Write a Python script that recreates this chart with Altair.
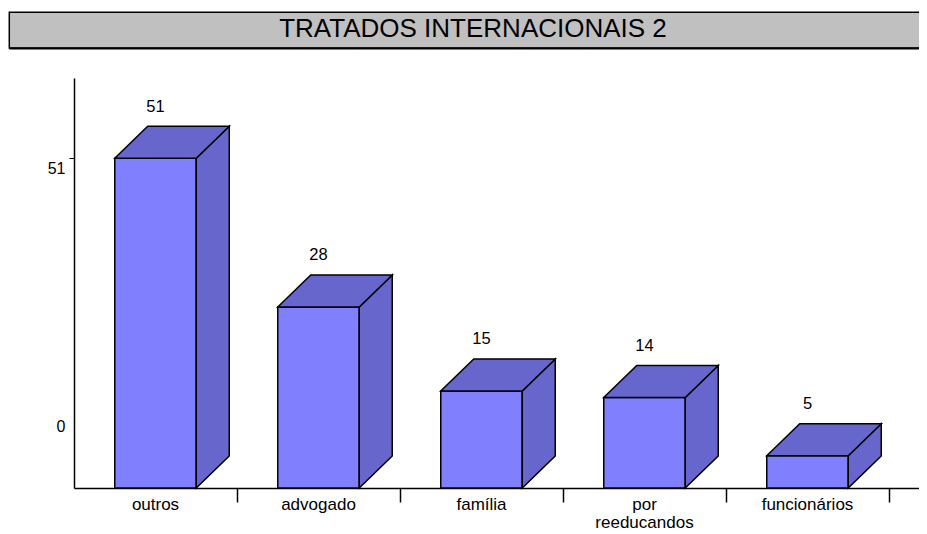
import altair as alt
import pandas as pd

# ---- data ----
categories = ["outros", "advogado", "família", "por\nreeducandos", "funcionários"]
values = [51, 28, 15, 14, 5]
title_text = "TRATADOS INTERNACIONAIS 2"
y_tick_values = [51, 11.03]
y_tick_labels = ["51", "0"]

# ---- layout / style ----
W, H = 845, 410
BAND = 163.0
XMAX = W / BAND
YMAX = 63.4
DX = 33 / BAND                # 3D depth, horizontal (data units)
DY = 32 / (H / YMAX)          # 3D depth, vertical (data units)
FRONT = "#8080FF"
SIDE = "#6666CC"
FONT = "Liberation Sans"

idx = list(range(len(categories)))
front = pd.DataFrame({
    "cat": categories,
    "v": values,
    "zero": [0] * len(values),
    "x0": [i + 0.25 for i in idx],
    "x1": [i + 0.75 for i in idx],
    "xc": [i + 0.5 for i in idx],
})

side_rows, top_rows = [], []
for i, c, v in zip(idx, categories, values):
    side_rows.append({"cat": c, "sx": i + 0.75, "lo": 0.0, "hi": float(v)})
    side_rows.append({"cat": c, "sx": i + 0.75 + DX, "lo": DY, "hi": v + DY})
    top_rows.append({"cat": c, "ty": float(v), "xa": i + 0.25, "xb": i + 0.75})
    top_rows.append({"cat": c, "ty": v + DY, "xa": i + 0.25 + DX, "xb": i + 0.75 + DX})
side = pd.DataFrame(side_rows)
top = pd.DataFrame(top_rows)
title_df = pd.DataFrame({"t": [title_text]})

xs = alt.Scale(domain=[0, XMAX], nice=False, zero=False)
ys = alt.Scale(domain=[0, YMAX], nice=False, zero=False)

label_expr = " : ".join(
    [f"datum.value == {v} ? '{l}'" for v, l in zip(y_tick_values[:-1], y_tick_labels[:-1])]
    + [f"'{y_tick_labels[-1]}'"]
)

xaxis = alt.Axis(values=[1, 2, 3, 4, 5], labels=False, tickSize=14, tickWidth=1.5,
                 tickColor="black", domainColor="black", domainWidth=1.5,
                 grid=False, title=None)
yaxis = alt.Axis(values=y_tick_values, labelExpr=label_expr, tickSize=5, tickWidth=1,
                 tickColor="black",
                 tickOpacity={"condition": {"test": f"datum.value == {y_tick_values[0]}", "value": 1}, "value": 0},
                 labelFont=FONT, labelFontSize=16, labelColor="black", labelPadding=4,
                 labelOffset=10, domainColor="black", domainWidth=1.5, grid=False, title=None)

front_layer = alt.Chart(front).mark_rect(fill=FRONT, stroke="black", strokeWidth=1.5).encode(
    x=alt.X("x0:Q", scale=xs, axis=xaxis),
    x2="x1:Q",
    y=alt.Y("v:Q", scale=ys, axis=yaxis),
    y2="zero:Q",
)

side_layer = alt.Chart(side).mark_area(fill=SIDE, stroke="black", strokeWidth=1.5,
                                       fillOpacity=1, orient="vertical").encode(
    x=alt.X("sx:Q", scale=xs, axis=xaxis),
    y=alt.Y("hi:Q", scale=ys, axis=yaxis),
    y2="lo:Q",
    detail="cat:N",
)

top_layer = alt.Chart(top).mark_area(orient="horizontal", fill=SIDE, stroke="black",
                                     strokeWidth=1.5, fillOpacity=1).encode(
    y=alt.Y("ty:Q", scale=ys, axis=yaxis),
    x=alt.X("xb:Q", scale=xs, axis=xaxis),
    x2="xa:Q",
    detail="cat:N",
)

value_labels = alt.Chart(front).mark_text(font=FONT, fontSize=16.5, color="black",
                                          baseline="middle", dy=-51.5).encode(
    x=alt.X("xc:Q", scale=xs, axis=xaxis),
    y=alt.Y("v:Q", scale=ys, axis=yaxis),
    text=alt.Text("v:Q"),
)

cat_labels = alt.Chart(front).mark_text(font=FONT, fontSize=17, color="black",
                                        baseline="alphabetic", lineBreak="\n",
                                        lineHeight=18).encode(
    x=alt.X("xc:Q", scale=xs, axis=xaxis),
    y=alt.value(H + 22),
    text="cat:N",
)

title_box = alt.Chart(title_df).mark_rect(fill="#C0C0C0", stroke="black", strokeWidth=1.5).encode(
    x=alt.value(-64.7), x2=alt.value(W + 20), y=alt.value(-65.7), y2=alt.value(-30)
)
title_bottom = alt.Chart(title_df).mark_rule(color="black", strokeWidth=2).encode(
    x=alt.value(-64.7), x2=alt.value(W + 20), y=alt.value(-29.5)
)
title_label = alt.Chart(title_df).mark_text(font=FONT, fontSize=26, color="black",
                                            baseline="alphabetic", align="center").encode(
    x=alt.value(399), y=alt.value(-40.7), text="t:N"
)

chart = alt.layer(
    front_layer, side_layer, top_layer, value_labels, cat_labels,
    title_box, title_bottom, title_label,
).properties(
    width=W, height=H,
    autosize=alt.AutoSizeParams(type="none"),
    padding={"left": 66, "top": 70, "right": 0, "bottom": 46},
).configure_view(stroke=None)

chart.save("out.html", embed_options={"renderer": "svg", "actions": False})
